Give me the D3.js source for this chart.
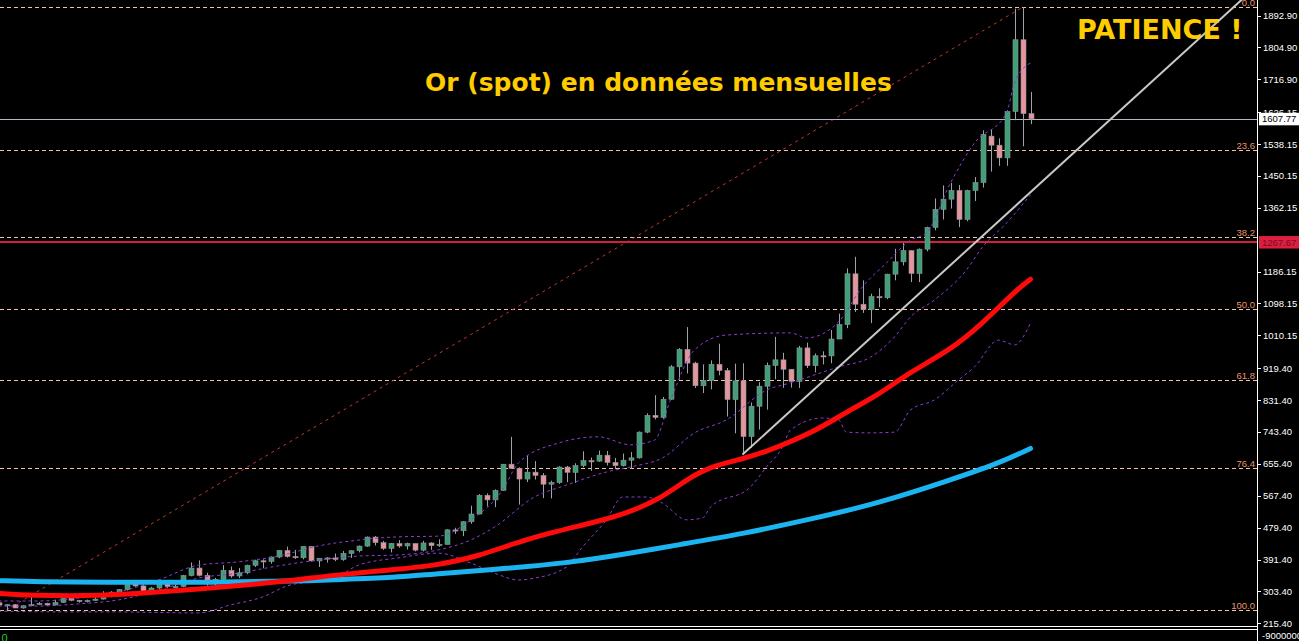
<!DOCTYPE html>
<html>
<head>
<meta charset="utf-8">
<script src="https://cdn.jsdelivr.net/npm/d3@7/dist/d3.min.js"></script>
<style>
  html, body { margin: 0; padding: 0; background: #000; overflow: hidden; }
  svg { display: block; }
</style>
</head>
<body>
<svg id="chart" width="1299" height="641"></svg>
<script>
// ---- Gold spot, monthly candles, Jan 2001 - Oct 2011 ----
const monthLabels = [
  "2001-01","2001-02","2001-03","2001-04","2001-05","2001-06","2001-07","2001-08","2001-09","2001-10","2001-11","2001-12",
  "2002-01","2002-02","2002-03","2002-04","2002-05","2002-06","2002-07","2002-08","2002-09","2002-10","2002-11","2002-12",
  "2003-01","2003-02","2003-03","2003-04","2003-05","2003-06","2003-07","2003-08","2003-09","2003-10","2003-11","2003-12",
  "2004-01","2004-02","2004-03","2004-04","2004-05","2004-06","2004-07","2004-08","2004-09","2004-10","2004-11","2004-12",
  "2005-01","2005-02","2005-03","2005-04","2005-05","2005-06","2005-07","2005-08","2005-09","2005-10","2005-11","2005-12",
  "2006-01","2006-02","2006-03","2006-04","2006-05","2006-06","2006-07","2006-08","2006-09","2006-10","2006-11","2006-12",
  "2007-01","2007-02","2007-03","2007-04","2007-05","2007-06","2007-07","2007-08","2007-09","2007-10","2007-11","2007-12",
  "2008-01","2008-02","2008-03","2008-04","2008-05","2008-06","2008-07","2008-08","2008-09","2008-10","2008-11","2008-12",
  "2009-01","2009-02","2009-03","2009-04","2009-05","2009-06","2009-07","2009-08","2009-09","2009-10","2009-11","2009-12",
  "2010-01","2010-02","2010-03","2010-04","2010-05","2010-06","2010-07","2010-08","2010-09","2010-10","2010-11","2010-12",
  "2011-01","2011-02","2011-03","2011-04","2011-05","2011-06","2011-07","2011-08","2011-09","2011-10"
];

const openPx = [
  272.0, 265.6, 266.7, 257.7, 263.8, 267.5, 270.6, 265.9, 273.0, 293.1, 278.7, 275.5,
  278.6, 282.3, 296.9, 301.4, 308.2, 326.6, 318.5, 304.7, 312.8, 323.7, 316.9, 317.1,
  347.2, 367.9, 347.7, 334.8, 336.8, 361.4, 346.0, 354.8, 375.6, 388.0, 386.3, 398.4,
  416.3, 399.8, 396.3, 427.5, 387.5, 395.0, 395.8, 391.4, 408.3, 415.7, 428.5, 453.4,
  438.0, 422.2, 435.5, 428.8, 435.7, 417.3, 437.1, 429.7, 433.3, 473.3, 470.8, 495.7,
  517.0, 568.8, 556.0, 582.0, 654.5, 643.0, 613.5, 632.5, 623.5, 599.3, 603.8, 646.7,
  632.0, 650.5, 664.2, 663.0, 679.4, 659.1, 650.5, 665.5, 672.0, 743.0, 789.5, 783.5,
  833.8, 923.3, 971.5, 933.5, 871.0, 885.8, 930.3, 913.0, 833.0, 884.5, 730.8, 814.5,
  869.8, 927.3, 942.5, 916.5, 883.3, 975.5, 926.5, 953.8, 953.5, 1000.0, 1040.0, 1180.0,
  1096.0, 1081.0, 1117.0, 1114.0, 1179.0, 1213.0, 1244.0, 1181.0, 1248.0, 1308.0, 1358.0, 1386.0,
  1410.0, 1330.0, 1410.0, 1432.0, 1560.0, 1535.0, 1500.0, 1628.0, 1826.0, 1622.0
];
const highPx = [
  273.5, 268.5, 268.0, 266.0, 293.2, 274.0, 272.0, 280.5, 293.5, 293.6, 280.0, 281.0,
  287.5, 304.0, 304.0, 310.0, 327.0, 329.0, 323.0, 316.0, 326.0, 325.0, 323.0, 349.0,
  383.5, 389.0, 355.0, 341.0, 376.0, 372.0, 368.0, 377.0, 391.0, 392.0, 400.0, 417.0,
  427.0, 418.0, 427.5, 428.0, 395.0, 398.0, 408.0, 415.0, 417.0, 430.0, 455.0, 456.5,
  443.0, 437.0, 445.0, 438.0, 436.0, 443.0, 439.0, 447.0, 475.0, 479.0, 497.0, 540.0,
  572.0, 574.0, 585.0, 655.0, 730.0, 646.0, 677.0, 663.0, 630.0, 609.0, 649.0, 650.0,
  657.0, 690.0, 673.0, 692.0, 691.0, 672.0, 684.0, 688.0, 745.0, 795.0, 845.0, 840.0,
  928.0, 975.0, 1033.0, 937.0, 930.0, 941.0, 987.0, 920.0, 932.0, 933.0, 825.0, 881.0,
  935.0, 1006.0, 962.0, 917.0, 981.0, 990.0, 960.0, 966.0, 1025.0, 1070.0, 1195.0, 1227.0,
  1162.0, 1125.0, 1140.0, 1180.0, 1249.0, 1265.0, 1245.0, 1250.0, 1310.0, 1388.0, 1424.0, 1431.0,
  1425.0, 1412.0, 1447.0, 1576.0, 1577.0, 1554.0, 1632.0, 1912.0, 1916.0, 1682.0
];
const lowPx = [
  262.8, 252.5, 257.2, 255.9, 263.0, 265.5, 264.0, 265.0, 271.5, 276.5, 272.5, 272.6,
  277.5, 281.0, 287.0, 299.0, 306.0, 316.0, 302.0, 301.0, 310.0, 312.0, 312.0, 315.0,
  345.0, 345.0, 319.0, 319.0, 336.0, 341.0, 340.0, 351.0, 371.0, 367.0, 380.0, 395.0,
  397.0, 393.0, 392.0, 386.0, 371.0, 383.0, 387.0, 388.0, 396.0, 411.0, 426.0, 430.0,
  418.0, 411.0, 424.0, 419.0, 414.0, 414.0, 418.0, 426.0, 433.0, 462.0, 456.0, 490.0,
  516.0, 538.0, 536.0, 581.0, 642.0, 543.0, 605.0, 612.0, 561.0, 560.0, 600.0, 605.0,
  603.0, 646.0, 636.0, 661.0, 651.0, 641.0, 648.0, 642.0, 670.0, 740.0, 778.0, 780.0,
  832.0, 888.0, 905.0, 865.0, 851.0, 861.0, 900.0, 786.0, 740.0, 681.0, 700.0, 750.0,
  805.0, 889.0, 865.0, 866.0, 865.0, 920.0, 908.0, 930.0, 933.0, 1004.0, 1030.0, 1075.0,
  1072.0, 1044.0, 1088.0, 1110.0, 1162.0, 1203.0, 1157.0, 1157.0, 1242.0, 1300.0, 1330.0, 1360.0,
  1309.0, 1325.0, 1381.0, 1418.0, 1462.0, 1478.0, 1478.0, 1604.0, 1532.0, 1593.0
];
const closePx = [
  265.6, 266.7, 257.7, 263.8, 267.5, 270.6, 265.9, 273.0, 293.1, 278.7, 275.5, 278.6,
  282.3, 296.9, 301.4, 308.2, 326.6, 318.5, 304.7, 312.8, 323.7, 316.9, 317.1, 347.2,
  367.9, 347.7, 334.8, 336.8, 361.4, 346.0, 354.8, 375.6, 388.0, 386.3, 398.4, 416.3,
  399.8, 396.3, 427.5, 387.5, 395.0, 395.8, 391.4, 408.3, 415.7, 428.5, 453.4, 438.0,
  422.2, 435.5, 428.8, 435.7, 417.3, 437.1, 429.7, 433.3, 473.3, 470.8, 495.7, 517.0,
  568.8, 556.0, 582.0, 654.5, 643.0, 613.5, 632.5, 623.5, 599.3, 603.8, 646.7, 632.0,
  650.5, 664.2, 663.0, 679.4, 659.1, 650.5, 665.5, 672.0, 743.0, 789.5, 783.5, 833.8,
  923.3, 971.5, 933.5, 871.0, 885.8, 930.3, 913.0, 833.0, 884.5, 730.8, 814.5, 869.8,
  927.3, 942.5, 916.5, 883.3, 975.5, 926.5, 953.8, 953.5, 1000.0, 1040.0, 1180.0, 1096.0,
  1081.0, 1117.0, 1114.0, 1179.0, 1213.0, 1244.0, 1181.0, 1248.0, 1308.0, 1358.0, 1386.0, 1410.0,
  1330.0, 1410.0, 1432.0, 1565.0, 1535.0, 1500.0, 1628.0, 1826.0, 1622.0, 1607.77
];

// ---- Moving averages (red = medium term, blue = long term) ----
const maRed = [
  ["2001-01",298],["2001-05",292],["2002-02",291],["2002-08",300],["2003-02",310],["2003-08",321],
  ["2004-03",337],["2004-06",346],["2005-03",365],["2005-07",373],["2006-01",399],["2006-07",450],
  ["2007-04",496],["2007-08",523],["2007-12",563],["2008-03",612],["2008-06",648],
  ["2008-10",669],["2009-01",689],["2009-07",744],["2009-11",799],["2010-03",846],["2010-07",910],
  ["2010-12",970],["2011-04",1043],["2011-08",1131],["2011-10",1165]
];
const maBlue = [
  ["2001-01",333],["2001-06",330],["2002-02",329],["2003-02",328],["2004-03",332],["2004-06",335],
  ["2005-03",342],["2005-07",351],["2006-03",364],["2006-12",381],["2007-08",409],["2008-02",432],
  ["2008-10",462],["2009-07",505],["2010-03",547],["2010-12",611],["2011-06",657],["2011-10",698]
];

// ---- Bollinger bands ----
const bbUpper = [
  ["2001-01",277],["2001-06",277],["2001-11",285],["2002-04",302],["2002-09",335],["2003-02",376],
  ["2003-07",385],["2003-12",401],["2004-05",429],["2004-10",445],["2005-03",454],["2005-08",456],
  ["2005-12",500],["2006-04",583],["2006-06",658],["2006-11",713],["2007-04",730],["2007-08",708],
  ["2007-11",721],["2008-01",832],["2008-04",970],["2008-08",1011],["2009-04",1017],["2009-06",1003],
  ["2009-10",1047],["2010-01",1144],["2010-04",1210],["2010-07",1273],["2010-09",1293],["2010-12",1431],
  ["2011-03",1541],["2011-07",1624],["2011-08",1707],["2011-10",1762]
];
const bbMiddle = [
  ["2001-01",263],["2001-06",263],["2001-11",269],["2002-04",280],["2002-09",307],["2003-02",340],
  ["2003-07",354],["2003-12",374],["2004-05",390],["2004-10",401],["2005-03",404],["2005-08",418],
  ["2005-12",445],["2006-03",481],["2006-08",564],["2006-12",597],["2007-05",633],["2007-08",647],
  ["2007-12",672],["2008-04",741],["2008-08",777],["2009-01",859],["2009-04",879],["2009-10",923],
  ["2010-02",950],["2010-05",1006],["2010-07",1061],["2010-10",1108],["2011-02",1191],["2011-04",1254],
  ["2011-07",1320],["2011-10",1398]
];
const bbLower = [
  ["2001-01",249],["2001-09",247],["2002-03",247],["2003-02",244],["2003-06",266],["2003-10",288],
  ["2004-01",318],["2004-07",340],["2004-10",376],["2005-03",396],["2005-08",409],["2005-12",382],
  ["2006-03",354],["2006-06",335],["2006-08",340],["2006-12",371],["2007-02",426],["2007-05",501],
  ["2007-07",564],["2007-10",564],["2007-12",547],["2008-03",501],["2008-05",506],["2008-06",536],
  ["2008-11",592],["2009-01",647],["2009-03",702],["2009-04",749],["2009-08",782],["2009-10",777],
  ["2009-11",743],["2010-02",741],["2010-05",743],["2010-07",804],["2010-10",832],["2011-01",887],
  ["2011-03",923],["2011-06",997],["2011-08",984],["2011-10",1044]
];

// ---- Fibonacci retracement between the 2001 low and the 2011 high ----
const fibAnchors = [["2001-02", 252.5], ["2011-09", 1915.5]];
const fibLevels = [0.0, 23.6, 38.2, 50.0, 61.8, 76.4, 100.0];

// ---- Support trendline from the October 2008 low ----
const trendAnchors = [["2008-10", 681], ["2011-08", 1365]];

// ---- Horizontal price lines ----
const bidPrice = 1607.77;
const markPrice = 1267.67;

// ---- Price axis ----
const priceTicks = [1892.90, 1804.90, 1716.90, 1626.15, 1538.15, 1450.15, 1362.15, 1186.15,
  1098.15, 1010.15, 919.40, 831.40, 743.40, 655.40, 567.40, 479.40, 391.40, 303.40, 215.40];

const titleText = "Or (spot) en données mensuelles";
const noteText = "PATIENCE !";

// =====================================================================
const svg = d3.select("#chart");
const W = 1299, H = 641;
const axisX = 1257.5;
const paneBottom = 626;

svg.append("rect").attr("width", W).attr("height", H).attr("fill", "#000");

const x = d3.scalePoint().domain(monthLabels).range([-1.5, 1030.5]);
const y = d3.scaleLinear().domain([215.4, 1892.9]).range([623.3, 15.5]);

svg.append("defs").append("clipPath").attr("id", "pane")
  .append("rect").attr("x", 0).attr("y", 0).attr("width", axisX).attr("height", paneBottom);

const pane = svg.append("g").attr("clip-path", "url(#pane)");

// Fibonacci level lines and their labels
const fibHi = fibAnchors[1][1], fibLo = fibAnchors[0][1];
const fibValue = r => fibHi - (r / 100) * (fibHi - fibLo);
pane.selectAll("line.fib").data(fibLevels).join("line")
  .attr("class", "fib")
  .attr("x1", 0).attr("x2", axisX)
  .attr("y1", d => Math.round(y(fibValue(d))) + 0.5)
  .attr("y2", d => Math.round(y(fibValue(d))) + 0.5)
  .attr("stroke", "#f2c3a4").attr("stroke-width", 1).attr("stroke-dasharray", "4,3");
pane.selectAll("text.fib").data(fibLevels).join("text")
  .attr("class", "fib")
  .attr("x", 1255).attr("y", d => Math.round(y(fibValue(d))) - 1.5)
  .attr("text-anchor", "end")
  .attr("font-family", "Liberation Sans, Arial, sans-serif").attr("font-size", 9.5)
  .attr("fill", "#e8956c")
  .text(d => d.toFixed(1));

// Fibonacci base line
pane.append("line")
  .attr("x1", x(fibAnchors[0][0])).attr("y1", y(fibAnchors[0][1]))
  .attr("x2", x(fibAnchors[1][0])).attr("y2", y(fibAnchors[1][1]))
  .attr("stroke", "#c8352f").attr("stroke-width", 1).attr("stroke-dasharray", "3,4");

// Horizontal price lines
pane.append("line")
  .attr("x1", 0).attr("x2", axisX)
  .attr("y1", Math.round(y(bidPrice)) + 0.5).attr("y2", Math.round(y(bidPrice)) + 0.5)
  .attr("stroke", "#b4b8c6").attr("stroke-width", 1);
pane.append("line")
  .attr("x1", 0).attr("x2", axisX)
  .attr("y1", y(markPrice)).attr("y2", y(markPrice))
  .attr("stroke", "#d41f3f").attr("stroke-width", 2);

// Candles
const candles = monthLabels.map((m, i) => ({
  m, o: openPx[i], h: highPx[i], l: lowPx[i], c: closePx[i]
}));
const cg = pane.append("g");
cg.selectAll("line.wick").data(candles).join("line")
  .attr("class", "wick")
  .attr("x1", d => Math.round(x(d.m)) + 0.5).attr("x2", d => Math.round(x(d.m)) + 0.5)
  .attr("y1", d => y(d.h)).attr("y2", d => y(d.l))
  .attr("stroke", "#9ea3ab").attr("stroke-width", 1);
cg.selectAll("rect.body").data(candles).join("rect")
  .attr("class", "body")
  .attr("x", d => Math.round(x(d.m)) - 2)
  .attr("width", 5)
  .attr("y", d => y(Math.max(d.o, d.c)))
  .attr("height", d => Math.max(1.2, Math.abs(y(d.o) - y(d.c))))
  .attr("fill", d => d.c >= d.o ? "#3f9f76" : "#e5969c")
  .attr("stroke", "#8d9299").attr("stroke-width", 0.6);

// Bollinger bands
const bandLine = d3.line().x(d => x(d[0])).y(d => y(d[1])).curve(d3.curveMonotoneX);
[bbUpper, bbMiddle, bbLower].forEach(b => {
  pane.append("path").datum(b).attr("d", bandLine)
    .attr("fill", "none").attr("stroke", "#8b3ed6").attr("stroke-width", 1)
    .attr("stroke-dasharray", "3,3");
});

// Moving averages
const maLine = d3.line().x(d => x(d[0])).y(d => y(d[1])).curve(d3.curveBasis);
pane.append("path").datum(maBlue).attr("d", maLine)
  .attr("fill", "none").attr("stroke", "#1cb4f0").attr("stroke-width", 5)
  .attr("stroke-linecap", "round");
pane.append("path").datum(maRed).attr("d", maLine)
  .attr("fill", "none").attr("stroke", "#ff0a0a").attr("stroke-width", 5)
  .attr("stroke-linecap", "round");

// Trendline (ray to the right edge)
const tx1 = x(trendAnchors[0][0]), ty1 = y(trendAnchors[0][1]);
const tx2 = x(trendAnchors[1][0]), ty2 = y(trendAnchors[1][1]);
const slope = (ty2 - ty1) / (tx2 - tx1);
pane.append("line")
  .attr("x1", tx1).attr("y1", ty1)
  .attr("x2", axisX).attr("y2", ty1 + slope * (axisX - tx1))
  .attr("stroke", "#c9c9c9").attr("stroke-width", 2);

// Headings
svg.append("text")
  .attr("x", 425).attr("y", 91)
  .attr("font-family", "DejaVu Sans, Verdana, sans-serif").attr("font-weight", "bold")
  .attr("font-size", 25).attr("fill", "#ffcc00")
  .text(titleText);
svg.append("text")
  .attr("x", 1077).attr("y", 38.5)
  .attr("font-family", "DejaVu Sans, Verdana, sans-serif").attr("font-weight", "bold")
  .attr("font-size", 27).attr("fill", "#ffcc00")
  .text(noteText);

// Price axis
const axisG = svg.append("g");
axisG.append("line")
  .attr("x1", axisX).attr("x2", axisX).attr("y1", 0).attr("y2", H)
  .attr("stroke", "#fff").attr("stroke-width", 1);
axisG.selectAll("line.tick").data(priceTicks).join("line")
  .attr("class", "tick")
  .attr("x1", axisX).attr("x2", axisX + 3.5)
  .attr("y1", d => Math.round(y(d)) + 0.5).attr("y2", d => Math.round(y(d)) + 0.5)
  .attr("stroke", "#fff");
axisG.selectAll("text.tick").data(priceTicks).join("text")
  .attr("class", "tick")
  .attr("x", 1263).attr("y", d => y(d) + 3.5)
  .attr("font-family", "Liberation Sans, Arial, sans-serif").attr("font-size", 9.5)
  .attr("fill", "#fff")
  .text(d => d.toFixed(2));

// Price labels
function priceTag(v, bg, fg) {
  const cy = y(v);
  axisG.append("rect").attr("x", 1259).attr("y", cy - 6).attr("width", 40).attr("height", 12.5)
    .attr("fill", bg);
  axisG.append("text").attr("x", 1262).attr("y", cy + 3.5)
    .attr("font-family", "Liberation Sans, Arial, sans-serif").attr("font-size", 9.5)
    .attr("fill", fg).text(v.toFixed(2));
}
priceTag(bidPrice, "#ffffff", "#000000");
priceTag(markPrice, "#dc1e40", "#7a0c1c");

// Pane separator and the sub-window strip
svg.append("line").attr("x1", 0).attr("x2", axisX).attr("y1", 626.5).attr("y2", 626.5)
  .attr("stroke", "#fff");
svg.append("line").attr("x1", 0).attr("x2", axisX).attr("y1", 629.5).attr("y2", 629.5)
  .attr("stroke", "#fff");
svg.append("text").attr("x", 1262).attr("y", 638.5)
  .attr("font-family", "Liberation Sans, Arial, sans-serif").attr("font-size", 9.5)
  .attr("fill", "#fff").text("-9000000");
svg.append("text").attr("x", 1.5).attr("y", 642)
  .attr("font-family", "Liberation Sans, Arial, sans-serif").attr("font-size", 11)
  .attr("fill", "#1fd11f").text("0");
</script>
</body>
</html>
